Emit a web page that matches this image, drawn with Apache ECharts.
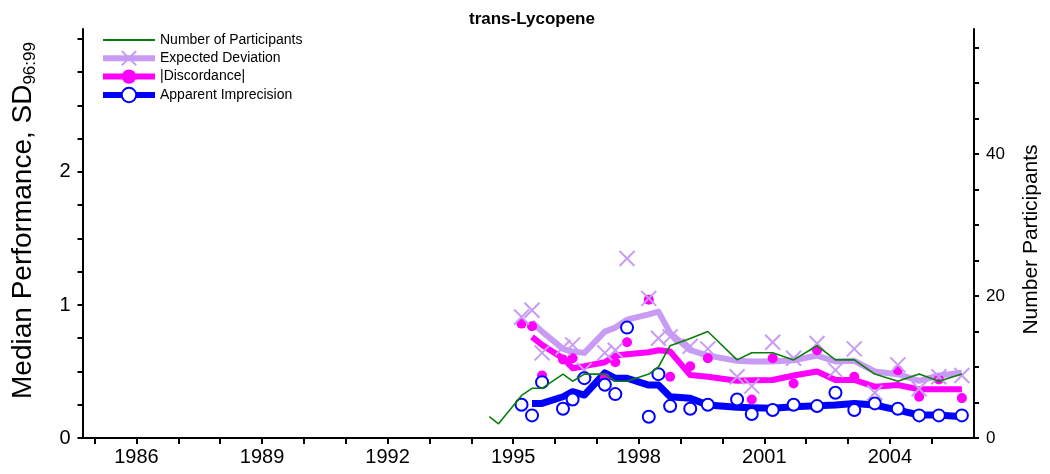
<!DOCTYPE html>
<html>
<head>
<meta charset="utf-8">
<title>trans-Lycopene</title>
<script src="https://cdn.jsdelivr.net/npm/echarts@6/dist/echarts.min.js"></script>
<style>
  html, body { margin: 0; padding: 0; background: #fff; }
  #chart { width: 1050px; height: 474px; }
</style>
</head>
<body>
<div id="chart"></div>
<script>
// study dates (decimal year)
const earlyDates = [1994.43, 1994.65];
const dates = [1995.20, 1995.45, 1995.69, 1996.19, 1996.42, 1996.70, 1997.19, 1997.44, 1997.72,
  1998.24, 1998.47, 1998.75, 1999.23, 1999.65, 2000.35, 2000.70, 2001.20, 2001.70, 2002.26,
  2002.70, 2003.15, 2003.64, 2004.19, 2004.70, 2005.17, 2005.72];

// number of participants (right axis)
const earlyParticipants = [3, 2];
const participants = [6, 7, 7, 9, 8, 9, 9, 8, 8, 9, 10, 13, 14, 15, 11, 12, 12, 11, 13, 11, 11, 9, 8, 9, 8, 9];

// single-study points
const expectedPts = [0.91, 0.96, 0.64, 0.68, 0.70, 0.51, 0.64, 0.66, 1.35, 1.05, 0.75, 0.76, 0.69, 0.67,
  0.46, 0.39, 0.72, 0.60, 0.71, 0.51, 0.67, 0.34, 0.55, 0.37, 0.46, 0.47];
const discordPts = [0.86, 0.84, 0.47, 0.59, 0.60, 0.45, 0.45, 0.57, 0.72, 1.04, null, 0.46, 0.54, 0.60,
  null, 0.29, 0.60, 0.41, 0.66, null, 0.46, null, 0.51, 0.31, 0.44, 0.30];
const imprecisionPts = [0.25, 0.17, 0.42, 0.22, 0.29, 0.45, 0.40, 0.33, 0.83, 0.16, 0.48, 0.24, 0.22, 0.25,
  0.29, 0.18, 0.21, 0.25, 0.24, 0.34, 0.21, 0.26, 0.22, 0.17, 0.17, 0.17];

// running trend lines (start at the second study)
const trendDates = dates.slice(1);
const expectedTrend = [0.87, 0.80, 0.67, 0.65, 0.64, 0.80, 0.83, 0.89, 0.93, 0.95, 0.79, 0.66, 0.62,
  0.58, 0.575, 0.575, 0.585, 0.62, 0.575, 0.58, 0.50, 0.48, 0.43, 0.47, 0.49];
const discordTrend = [0.76, 0.70, 0.60, 0.525, 0.54, 0.57, 0.62, 0.63, 0.645, 0.66, 0.65, 0.474, 0.461,
  0.43, 0.435, 0.436, 0.47, 0.50, 0.436, 0.436, 0.386, 0.398, 0.366, 0.366, 0.366];
const imprecisionTrend = [0.26, 0.26, 0.31, 0.348, 0.323, 0.49, 0.449, 0.449, 0.398, 0.398, 0.31, 0.298,
  0.248, 0.231, 0.228, 0.223, 0.235, 0.243, 0.248, 0.26, 0.248, 0.21, 0.173, 0.173, 0.16];

// axis ticks and labels
const yearLabels = [1986, 1989, 1992, 1995, 1998, 2001, 2004];
const yearTicks = [1985, 1986, 1987, 1988, 1989, 1990, 1991, 1992, 1993, 1994, 1995,
  1996, 1997, 1998, 1999, 2000, 2001, 2002, 2003, 2004, 2005];
const leftLabels = [0, 1, 2];
const leftTicks = [0, 0.25, 0.5, 0.75, 1, 1.25, 1.5, 1.75, 2, 2.25, 2.5, 2.75, 3];
const rightLabels = [0, 20, 40];
const rightTicks = [0, 5, 10, 15, 20, 25, 30, 35, 40, 45, 50, 55];

const FONT = 'Liberation Sans, Arial, sans-serif';
const X_SYMBOL = 'path://M0,0L10,10M10,0L0,10';

function pairs(xs, ys) {
  const out = [];
  xs.forEach((x, i) => { if (ys[i] != null) out.push([x, ys[i]]); });
  return out;
}

const chart = echarts.init(document.getElementById('chart'), null, { renderer: 'canvas' });
chart.setOption({
  animation: false,
  textStyle: { fontFamily: FONT, color: '#000' },
  title: {
    text: 'trans-Lycopene',
    left: 464,
    top: 6,
    textStyle: { fontFamily: FONT, fontSize: 17, fontWeight: 'bold', color: '#000' }
  },
  legend: {
    orient: 'vertical',
    left: 95,
    top: 28,
    itemWidth: 52,
    itemHeight: 18,
    itemGap: 3,
    textStyle: { fontFamily: FONT, fontSize: 14, color: '#000' },
    data: [
      { name: 'Number of Participants', icon: 'path://M0,0L52,0L52,2L0,2Z' },
      { name: 'Expected Deviation', lineStyle: { width: 6 } },
      { name: '|Discordance|', lineStyle: { width: 6 } },
      { name: 'Apparent Imprecision', lineStyle: { width: 6 } }
    ]
  },
  grid: { left: 82, right: 70, top: 29, bottom: 36 },
  xAxis: {
    type: 'value',
    min: 1984.71,
    max: 2006.01,
    splitLine: { show: false },
    axisLine: { show: true, onZero: false, lineStyle: { color: '#000', width: 2 } },
    axisTick: { show: true, customValues: yearTicks, length: 6, lineStyle: { color: '#000', width: 2 } },
    axisLabel: {
      customValues: yearLabels, fontSize: 20, color: '#000', fontFamily: FONT, margin: 9,
      formatter: v => String(v)
    }
  },
  yAxis: [
    {
      type: 'value',
      min: 0,
      max: 3.075,
      name: '{a|Median Performance, SD}{b|96:99}',
      nameLocation: 'middle',
      nameRotate: 90,
      nameGap: 44,
      nameTextStyle: {
        padding: [0, 0, 0, 26],
        rich: {
          a: { fontFamily: FONT, fontSize: 28, lineHeight: 30, color: '#000' },
          b: { fontFamily: FONT, fontSize: 17, lineHeight: 30, padding: [14, 0, 0, 0], color: '#000' }
        }
      },
      splitLine: { show: false },
      axisLine: { show: true, onZero: false, lineStyle: { color: '#000', width: 2 } },
      axisTick: { show: true, customValues: leftTicks, length: 5, lineStyle: { color: '#000', width: 2 } },
      axisLabel: { customValues: leftLabels, fontSize: 20, color: '#000', fontFamily: FONT, margin: 12 }
    },
    {
      type: 'value',
      position: 'right',
      min: 0,
      max: 57.6,
      name: 'Number Participants',
      nameLocation: 'middle',
      nameRotate: 90,
      nameGap: 47,
      nameTextStyle: { fontFamily: FONT, fontSize: 21, color: '#000', padding: [0, 12, 0, 0] },
      splitLine: { show: false },
      axisLine: { show: true, onZero: false, lineStyle: { color: '#000', width: 2 } },
      axisTick: { show: true, customValues: rightTicks, length: 5, lineStyle: { color: '#000', width: 2 } },
      axisLabel: { customValues: rightLabels, fontSize: 17, color: '#000', fontFamily: FONT, margin: 12 }
    }
  ],
  series: [
    {
      name: 'Expected Deviation',
      type: 'line',
      yAxisIndex: 0,
      data: pairs(trendDates, expectedTrend),
      symbol: X_SYMBOL,
      showSymbol: false,
      lineStyle: { color: '#c89bf5', width: 6, join: 'round' },
      itemStyle: { color: '#c89bf5', borderColor: '#c89bf5', borderWidth: 2 },
      z: 2
    },
    {
      name: '|Discordance|',
      type: 'line',
      yAxisIndex: 0,
      data: pairs(trendDates, discordTrend),
      symbol: 'circle',
      showSymbol: false,
      lineStyle: { color: '#ff00ff', width: 6, join: 'round' },
      itemStyle: { color: '#ff00ff' },
      z: 2
    },
    {
      name: 'Apparent Imprecision',
      type: 'line',
      yAxisIndex: 0,
      data: pairs(trendDates, imprecisionTrend),
      symbol: 'emptyCircle',
      showSymbol: false,
      lineStyle: { color: '#0000ff', width: 7, join: 'round' },
      itemStyle: { color: '#0000ff' },
      z: 2
    },
    {
      name: 'discordance points',
      type: 'scatter',
      yAxisIndex: 0,
      data: pairs(dates, discordPts),
      symbol: 'circle',
      symbolSize: 10,
      itemStyle: { color: '#ff00ff', opacity: 1 },
      z: 3
    },
    {
      name: 'expected points',
      type: 'scatter',
      yAxisIndex: 0,
      data: pairs(dates, expectedPts),
      symbol: X_SYMBOL,
      symbolSize: 15,
      itemStyle: { color: 'rgba(0,0,0,0)', borderColor: '#c89bf5', borderWidth: 2, opacity: 1 },
      z: 4
    },
    {
      name: 'imprecision points',
      type: 'scatter',
      yAxisIndex: 0,
      data: pairs(dates, imprecisionPts),
      symbol: 'circle',
      symbolSize: 12,
      itemStyle: { color: '#fff', borderColor: '#0000ff', borderWidth: 2, opacity: 1 },
      z: 5
    },
    {
      name: 'Number of Participants',
      type: 'line',
      yAxisIndex: 1,
      data: pairs(earlyDates.concat(dates), earlyParticipants.concat(participants)),
      symbol: 'none',
      lineStyle: { color: '#0a7f0a', width: 1.6 },
      itemStyle: { color: '#0a7f0a' },
      z: 6
    }
  ]
});
</script>
</body>
</html>
